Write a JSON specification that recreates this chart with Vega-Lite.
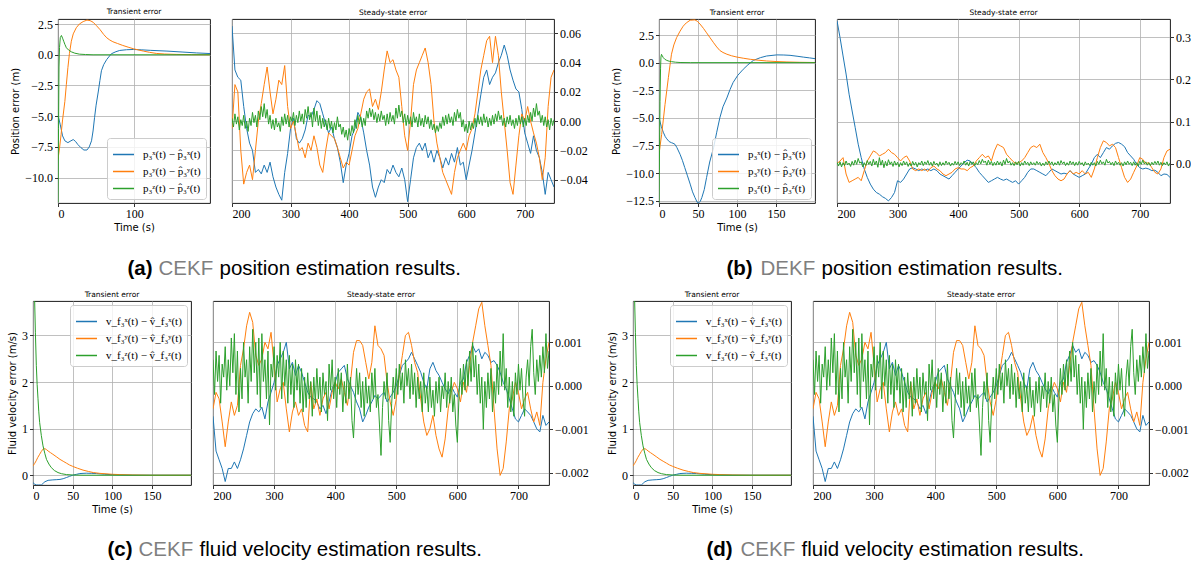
{
"$schema":"https://vega.github.io/schema/vega-lite/v6.json",
"background":"white",
"padding":{"left":0,"top":7,"right":0,"bottom":0},
"spacing":11,
"resolve":{"legend":{"color":"independent"}},
"config":{
 "view":{"stroke":"#000","strokeWidth":0.9},
 "axis":{"labelFont":"Liberation Serif","labelFontSize":12,"labelColor":"#000","tickColor":"#000","tickSize":3.5,"tickWidth":0.8,"labelPadding":2,"grid":true,"gridColor":"#b0b0b0","gridWidth":0.8,"domain":false,"titleFont":"DejaVu Sans","titleFontSize":10,"titleFontWeight":"normal","titleColor":"#000"},
 "title":{"font":"DejaVu Sans","fontSize":7.5,"fontWeight":"normal","color":"#000","offset":3},
 "legend":{"symbolType":"stroke","symbolSize":441,"symbolStrokeWidth":1.5,"labelFont":"Liberation Serif","labelFontSize":11,"labelColor":"#000","fillColor":"rgba(255,255,255,0.8)","strokeColor":"#cccccc","cornerRadius":3,"padding":5,"offset":4,"rowPadding":0,"labelOffset":8,"title":null}
},
"datasets":{
"tA":[
{"s":"x","t":0,"v":-4.9},{"s":"x","t":3,"v":-5.7},{"s":"x","t":6,"v":-6.6},{"s":"x","t":9,"v":-7.0},{"s":"x","t":13,"v":-7.15},{"s":"x","t":17,"v":-7.0},{"s":"x","t":20,"v":-6.9},{"s":"x","t":23,"v":-7.05},{"s":"x","t":26,"v":-7.3},{"s":"x","t":30,"v":-7.55},{"s":"x","t":34,"v":-7.75},{"s":"x","t":38,"v":-7.75},{"s":"x","t":41,"v":-7.5},{"s":"x","t":44,"v":-7.0},{"s":"x","t":46,"v":-6.2},{"s":"x","t":48,"v":-5.1},{"s":"x","t":50,"v":-4.1},{"s":"x","t":53,"v":-2.95},{"s":"x","t":55,"v":-2.1},{"s":"x","t":57,"v":-1.3},{"s":"x","t":60,"v":-0.8},{"s":"x","t":64,"v":-0.38},{"s":"x","t":70,"v":0.08},{"s":"x","t":76,"v":0.25},{"s":"x","t":81,"v":0.35},{"s":"x","t":90,"v":0.41},{"s":"x","t":99,"v":0.43},{"s":"x","t":110,"v":0.4},{"s":"x","t":121,"v":0.36},{"s":"x","t":143,"v":0.3},{"s":"x","t":164,"v":0.22},{"s":"x","t":182,"v":0.15},{"s":"x","t":199.5,"v":0.1},
{"s":"y","t":0,"v":-8.5},{"s":"y","t":2,"v":-7.6},{"s":"y","t":4,"v":-6.5},{"s":"y","t":6,"v":-5.3},{"s":"y","t":9,"v":-3.8},{"s":"y","t":11,"v":-2.4},{"s":"y","t":13,"v":-1.05},{"s":"y","t":15,"v":0.1},{"s":"y","t":17.5,"v":1.1},{"s":"y","t":20,"v":1.7},{"s":"y","t":24,"v":2.2},{"s":"y","t":28,"v":2.5},{"s":"y","t":33,"v":2.7},{"s":"y","t":38,"v":2.82},{"s":"y","t":42,"v":2.78},{"s":"y","t":46,"v":2.65},{"s":"y","t":50,"v":2.4},{"s":"y","t":55,"v":2.06},{"s":"y","t":60,"v":1.65},{"s":"y","t":64,"v":1.38},{"s":"y","t":68,"v":1.2},{"s":"y","t":72,"v":1.06},{"s":"y","t":78,"v":0.92},{"s":"y","t":85,"v":0.76},{"s":"y","t":92,"v":0.62},{"s":"y","t":99,"v":0.49},{"s":"y","t":105,"v":0.4},{"s":"y","t":112,"v":0.3},{"s":"y","t":120,"v":0.2},{"s":"y","t":129,"v":0.11},{"s":"y","t":140,"v":0.06},{"s":"y","t":156,"v":0.03},{"s":"y","t":175,"v":0.01},{"s":"y","t":199.5,"v":0},
{"s":"z","t":0,"v":-12},{"s":"z","t":0.7,"v":-6},{"s":"z","t":1.3,"v":-1},{"s":"z","t":2,"v":0.6},{"s":"z","t":3,"v":1.4},{"s":"z","t":4.5,"v":1.57},{"s":"z","t":6,"v":1.35},{"s":"z","t":7.5,"v":1.1},{"s":"z","t":9,"v":0.85},{"s":"z","t":11,"v":0.57},{"s":"z","t":14,"v":0.38},{"s":"z","t":17.5,"v":0.24},{"s":"z","t":22,"v":0.13},{"s":"z","t":28,"v":0.05},{"s":"z","t":36,"v":0.02},{"s":"z","t":46,"v":0},{"s":"z","t":199.5,"v":0}
],
"tB":[
{"s":"x","t":0,"v":-5.0},{"s":"x","t":3,"v":-5.8},{"s":"x","t":5.5,"v":-6.3},{"s":"x","t":8,"v":-6.7},{"s":"x","t":10,"v":-6.9},{"s":"x","t":13,"v":-7.15},{"s":"x","t":16,"v":-7.25},{"s":"x","t":18,"v":-7.3},{"s":"x","t":20.5,"v":-7.4},{"s":"x","t":23,"v":-7.7},{"s":"x","t":27,"v":-8.3},{"s":"x","t":30,"v":-8.85},{"s":"x","t":33,"v":-9.5},{"s":"x","t":36.5,"v":-10.25},{"s":"x","t":40,"v":-11.0},{"s":"x","t":43,"v":-11.7},{"s":"x","t":46,"v":-12.2},{"s":"x","t":49,"v":-12.65},{"s":"x","t":51,"v":-12.7},{"s":"x","t":53,"v":-12.55},{"s":"x","t":55,"v":-12.2},{"s":"x","t":58,"v":-11.5},{"s":"x","t":61,"v":-10.4},{"s":"x","t":65,"v":-9.0},{"s":"x","t":70,"v":-7.7},{"s":"x","t":74,"v":-6.3},{"s":"x","t":78,"v":-5.0},{"s":"x","t":82,"v":-4.0},{"s":"x","t":87,"v":-3.2},{"s":"x","t":91,"v":-2.45},{"s":"x","t":95,"v":-1.8},{"s":"x","t":101,"v":-1.15},{"s":"x","t":108,"v":-0.6},{"s":"x","t":114,"v":-0.2},{"s":"x","t":121,"v":0.2},{"s":"x","t":130,"v":0.45},{"s":"x","t":138,"v":0.6},{"s":"x","t":151,"v":0.7},{"s":"x","t":160,"v":0.69},{"s":"x","t":168,"v":0.66},{"s":"x","t":177,"v":0.58},{"s":"x","t":185,"v":0.5},{"s":"x","t":193,"v":0.43},{"s":"x","t":200,"v":0.36},
{"s":"y","t":0,"v":-8.3},{"s":"y","t":1.5,"v":-7.5},{"s":"y","t":3.4,"v":-6.5},{"s":"y","t":5.5,"v":-5.2},{"s":"y","t":7.7,"v":-3.8},{"s":"y","t":10,"v":-2.5},{"s":"y","t":12,"v":-1.36},{"s":"y","t":14,"v":-0.3},{"s":"y","t":16,"v":0.76},{"s":"y","t":19,"v":1.6},{"s":"y","t":22.6,"v":2.27},{"s":"y","t":27,"v":2.85},{"s":"y","t":31,"v":3.3},{"s":"y","t":35,"v":3.6},{"s":"y","t":40,"v":3.84},{"s":"y","t":46,"v":3.87},{"s":"y","t":49,"v":3.75},{"s":"y","t":52.5,"v":3.5},{"s":"y","t":57,"v":3.1},{"s":"y","t":61,"v":2.7},{"s":"y","t":65,"v":2.3},{"s":"y","t":70,"v":1.8},{"s":"y","t":74,"v":1.42},{"s":"y","t":78,"v":1.1},{"s":"y","t":82,"v":0.92},{"s":"y","t":87,"v":0.76},{"s":"y","t":93,"v":0.62},{"s":"y","t":100,"v":0.5},{"s":"y","t":108,"v":0.4},{"s":"y","t":117,"v":0.3},{"s":"y","t":127,"v":0.22},{"s":"y","t":138,"v":0.15},{"s":"y","t":150,"v":0.1},{"s":"y","t":164,"v":0.06},{"s":"y","t":180,"v":0.03},{"s":"y","t":200,"v":0.01},
{"s":"z","t":0,"v":-12.7},{"s":"z","t":0.7,"v":-8},{"s":"z","t":1.3,"v":-3.5},{"s":"z","t":2,"v":-0.5},{"s":"z","t":2.5,"v":0.5},{"s":"z","t":3.2,"v":0.75},{"s":"z","t":4,"v":0.65},{"s":"z","t":5.5,"v":0.45},{"s":"z","t":7.5,"v":0.3},{"s":"z","t":10,"v":0.2},{"s":"z","t":13,"v":0.13},{"s":"z","t":16,"v":0.09},{"s":"z","t":21,"v":0.04},{"s":"z","t":27,"v":0.01},{"s":"z","t":40,"v":0},{"s":"z","t":200,"v":0}
],
"tC":[
{"s":"x","t":0,"v":-0.16},{"s":"x","t":2,"v":-0.19},{"s":"x","t":4,"v":-0.21},{"s":"x","t":7,"v":-0.21},{"s":"x","t":10.5,"v":-0.21},{"s":"x","t":13,"v":-0.17},{"s":"x","t":15,"v":-0.14},{"s":"x","t":19,"v":-0.11},{"s":"x","t":25,"v":-0.1},{"s":"x","t":30,"v":-0.095},{"s":"x","t":34,"v":-0.09},{"s":"x","t":38,"v":-0.075},{"s":"x","t":42,"v":-0.05},{"s":"x","t":46,"v":-0.025},{"s":"x","t":50,"v":0},{"s":"x","t":55,"v":0.02},{"s":"x","t":59,"v":0.036},{"s":"x","t":67,"v":0.043},{"s":"x","t":74,"v":0.04},{"s":"x","t":80,"v":0.036},{"s":"x","t":90,"v":0.022},{"s":"x","t":97,"v":0.014},{"s":"x","t":110,"v":0.006},{"s":"x","t":126,"v":0},{"s":"x","t":199,"v":0},
{"s":"y","t":0,"v":0.2},{"s":"y","t":2,"v":0.25},{"s":"y","t":4,"v":0.31},{"s":"y","t":6,"v":0.38},{"s":"y","t":8.4,"v":0.45},{"s":"y","t":10.5,"v":0.51},{"s":"y","t":12.6,"v":0.56},{"s":"y","t":15,"v":0.57},{"s":"y","t":17,"v":0.55},{"s":"y","t":19,"v":0.52},{"s":"y","t":22,"v":0.485},{"s":"y","t":25,"v":0.45},{"s":"y","t":30,"v":0.39},{"s":"y","t":34,"v":0.34},{"s":"y","t":38,"v":0.3},{"s":"y","t":42,"v":0.26},{"s":"y","t":46,"v":0.22},{"s":"y","t":50,"v":0.19},{"s":"y","t":56,"v":0.15},{"s":"y","t":63,"v":0.11},{"s":"y","t":70,"v":0.08},{"s":"y","t":76,"v":0.057},{"s":"y","t":84,"v":0.04},{"s":"y","t":92,"v":0.03},{"s":"y","t":100,"v":0.02},{"s":"y","t":109,"v":0.014},{"s":"y","t":125,"v":0.006},{"s":"y","t":147,"v":0},{"s":"y","t":199,"v":0},
{"s":"z","t":0,"v":6},{"s":"z","t":2,"v":3.8},{"s":"z","t":3,"v":3.07},{"s":"z","t":4.2,"v":2.35},{"s":"z","t":5.2,"v":1.95},{"s":"z","t":6.3,"v":1.64},{"s":"z","t":7.3,"v":1.36},{"s":"z","t":8.4,"v":1.13},{"s":"z","t":10.5,"v":0.85},{"s":"z","t":12.6,"v":0.63},{"s":"z","t":15,"v":0.46},{"s":"z","t":17,"v":0.34},{"s":"z","t":20,"v":0.24},{"s":"z","t":23,"v":0.165},{"s":"z","t":27,"v":0.1},{"s":"z","t":31.5,"v":0.057},{"s":"z","t":36,"v":0.032},{"s":"z","t":42,"v":0.014},{"s":"z","t":50,"v":0.005},{"s":"z","t":63,"v":0},{"s":"z","t":199,"v":0}
],
"sA":[
{"t":200,"x":0.065,"y":-0.005},{"t":205,"x":0.035,"y":0.025},{"t":210,"x":0.030,"y":0.020},{"t":215,"x":0.028,"y":-0.020},{"t":220,"x":0.010,"y":-0.043},{"t":225,"x":-0.005,"y":-0.035},{"t":230,"x":-0.015,"y":-0.030},{"t":235,"x":-0.020,"y":-0.040},{"t":240,"x":-0.035,"y":-0.020},{"t":245,"x":-0.033,"y":0.000},{"t":250,"x":-0.036,"y":0.012},{"t":255,"x":-0.030,"y":0.025},{"t":260,"x":-0.035,"y":0.037},{"t":265,"x":-0.028,"y":0.020},{"t":270,"x":-0.038,"y":0.005},{"t":275,"x":-0.045,"y":0.015},{"t":280,"x":-0.050,"y":0.028},{"t":285,"x":-0.054,"y":0.025},{"t":290,"x":-0.035,"y":0.038},{"t":295,"x":-0.022,"y":0.010},{"t":300,"x":-0.005,"y":-0.005},{"t":305,"x":0.002,"y":0.000},{"t":310,"x":-0.012,"y":-0.010},{"t":315,"x":-0.015,"y":-0.020},{"t":320,"x":-0.012,"y":-0.018},{"t":325,"x":-0.006,"y":-0.025},{"t":330,"x":0.004,"y":-0.015},{"t":335,"x":0.003,"y":-0.020},{"t":340,"x":0.008,"y":-0.010},{"t":345,"x":0.014,"y":-0.018},{"t":350,"x":0.012,"y":-0.030},{"t":355,"x":0.005,"y":-0.035},{"t":360,"x":-0.002,"y":-0.020},{"t":365,"x":-0.008,"y":-0.008},{"t":370,"x":-0.004,"y":-0.010},{"t":375,"x":-0.012,"y":-0.012},{"t":380,"x":-0.018,"y":-0.018},{"t":385,"x":-0.028,"y":-0.025},{"t":390,"x":-0.042,"y":-0.032},{"t":395,"x":-0.030,"y":-0.028},{"t":400,"x":-0.022,"y":-0.030},{"t":405,"x":-0.010,"y":-0.020},{"t":410,"x":-0.005,"y":-0.010},{"t":415,"x":0.006,"y":-0.005},{"t":420,"x":0.002,"y":0.005},{"t":425,"x":-0.008,"y":0.015},{"t":430,"x":-0.020,"y":0.020},{"t":435,"x":-0.030,"y":0.022},{"t":440,"x":-0.045,"y":0.010},{"t":445,"x":-0.052,"y":0.015},{"t":450,"x":-0.045,"y":0.008},{"t":455,"x":-0.040,"y":0.020},{"t":460,"x":-0.042,"y":0.035},{"t":465,"x":-0.033,"y":0.048},{"t":470,"x":-0.036,"y":0.040},{"t":475,"x":-0.030,"y":0.042},{"t":480,"x":-0.035,"y":0.035},{"t":485,"x":-0.038,"y":0.030},{"t":490,"x":-0.032,"y":0.010},{"t":495,"x":-0.040,"y":-0.010},{"t":500,"x":-0.055,"y":-0.020},{"t":505,"x":-0.040,"y":0.000},{"t":510,"x":-0.025,"y":0.025},{"t":515,"x":-0.018,"y":0.035},{"t":520,"x":-0.015,"y":0.040},{"t":525,"x":-0.020,"y":0.045},{"t":530,"x":-0.015,"y":0.050},{"t":535,"x":-0.025,"y":0.040},{"t":540,"x":-0.020,"y":0.025},{"t":545,"x":-0.028,"y":0.000},{"t":550,"x":-0.020,"y":-0.015},{"t":555,"x":-0.025,"y":-0.025},{"t":560,"x":-0.032,"y":-0.035},{"t":565,"x":-0.025,"y":-0.040},{"t":570,"x":-0.030,"y":-0.045},{"t":575,"x":-0.022,"y":-0.050},{"t":580,"x":-0.028,"y":-0.035},{"t":585,"x":-0.018,"y":-0.025},{"t":590,"x":-0.030,"y":-0.020},{"t":595,"x":-0.028,"y":-0.015},{"t":600,"x":-0.040,"y":-0.020},{"t":605,"x":-0.030,"y":-0.010},{"t":610,"x":-0.020,"y":-0.005},{"t":615,"x":-0.008,"y":0.005},{"t":620,"x":0.005,"y":0.020},{"t":625,"x":0.018,"y":0.035},{"t":630,"x":0.030,"y":0.045},{"t":635,"x":0.035,"y":0.055},{"t":640,"x":0.025,"y":0.058},{"t":645,"x":0.030,"y":0.040},{"t":650,"x":0.033,"y":0.058},{"t":655,"x":0.040,"y":0.045},{"t":660,"x":0.045,"y":0.020},{"t":665,"x":0.052,"y":0.000},{"t":670,"x":0.045,"y":-0.020},{"t":675,"x":0.035,"y":-0.042},{"t":680,"x":0.028,"y":-0.050},{"t":685,"x":0.022,"y":-0.030},{"t":690,"x":0.020,"y":-0.010},{"t":695,"x":0.008,"y":0.005},{"t":700,"x":-0.008,"y":0.000},{"t":705,"x":-0.015,"y":0.010},{"t":710,"x":-0.022,"y":0.000},{"t":715,"x":-0.010,"y":-0.008},{"t":720,"x":-0.020,"y":-0.015},{"t":725,"x":-0.025,"y":-0.025},{"t":730,"x":-0.035,"y":-0.040},{"t":735,"x":-0.050,"y":-0.025},{"t":740,"x":-0.035,"y":0.010},{"t":745,"x":-0.040,"y":0.030},{"t":750,"x":-0.045,"y":0.035}
],
"zA":[
{"t":200,"z":0.002},{"t":202.5,"z":-0.004},{"t":205,"z":0.005},{"t":207.5,"z":-0.002},{"t":210,"z":0.003},{"t":212.5,"z":-0.006},{"t":215,"z":0.001},{"t":217.5,"z":-0.003},{"t":220,"z":0.004},{"t":222.5,"z":-0.005},{"t":225,"z":0.000},{"t":227.5,"z":-0.007},{"t":230,"z":0.002},{"t":232.5,"z":-0.003},{"t":235,"z":0.006},{"t":237.5,"z":-0.001},{"t":240,"z":0.004},{"t":242.5,"z":-0.004},{"t":245,"z":0.007},{"t":247.5,"z":0.001},{"t":250,"z":0.010},{"t":252.5,"z":0.003},{"t":255,"z":0.012},{"t":257.5,"z":0.002},{"t":260,"z":0.008},{"t":262.5,"z":-0.002},{"t":265,"z":0.004},{"t":267.5,"z":-0.005},{"t":270,"z":0.001},{"t":272.5,"z":-0.006},{"t":275,"z":0.002},{"t":277.5,"z":-0.004},{"t":280,"z":-0.001},{"t":282.5,"z":-0.007},{"t":285,"z":0.003},{"t":287.5,"z":-0.003},{"t":290,"z":0.005},{"t":292.5,"z":-0.002},{"t":295,"z":0.004},{"t":297.5,"z":-0.004},{"t":300,"z":0.003},{"t":302.5,"z":0.000},{"t":305,"z":0.006},{"t":307.5,"z":-0.003},{"t":310,"z":0.004},{"t":312.5,"z":-0.001},{"t":315,"z":0.007},{"t":317.5,"z":0.000},{"t":320,"z":0.005},{"t":322.5,"z":-0.002},{"t":325,"z":0.008},{"t":327.5,"z":0.002},{"t":330,"z":0.010},{"t":332.5,"z":0.001},{"t":335,"z":0.006},{"t":337.5,"z":-0.004},{"t":340,"z":0.009},{"t":342.5,"z":0.000},{"t":345,"z":0.007},{"t":347.5,"z":-0.003},{"t":350,"z":0.004},{"t":352.5,"z":-0.005},{"t":355,"z":0.002},{"t":357.5,"z":-0.004},{"t":360,"z":0.001},{"t":362.5,"z":-0.006},{"t":365,"z":0.002},{"t":367.5,"z":-0.005},{"t":370,"z":0.000},{"t":372.5,"z":-0.008},{"t":375,"z":-0.001},{"t":377.5,"z":-0.006},{"t":380,"z":0.003},{"t":382.5,"z":-0.004},{"t":385,"z":-0.002},{"t":387.5,"z":-0.009},{"t":390,"z":-0.004},{"t":392.5,"z":-0.011},{"t":395,"z":-0.006},{"t":397.5,"z":-0.013},{"t":400,"z":-0.005},{"t":402.5,"z":-0.010},{"t":405,"z":-0.003},{"t":407.5,"z":-0.008},{"t":410,"z":0.001},{"t":412.5,"z":-0.005},{"t":415,"z":0.004},{"t":417.5,"z":-0.002},{"t":420,"z":0.003},{"t":422.5,"z":-0.004},{"t":425,"z":0.002},{"t":427.5,"z":-0.003},{"t":430,"z":0.007},{"t":432.5,"z":0.002},{"t":435,"z":0.009},{"t":437.5,"z":0.003},{"t":440,"z":0.008},{"t":442.5,"z":0.001},{"t":445,"z":0.006},{"t":447.5,"z":-0.001},{"t":450,"z":0.005},{"t":452.5,"z":0.000},{"t":455,"z":0.007},{"t":457.5,"z":0.001},{"t":460,"z":0.004},{"t":462.5,"z":-0.003},{"t":465,"z":0.005},{"t":467.5,"z":-0.002},{"t":470,"z":0.006},{"t":472.5,"z":0.000},{"t":475,"z":0.004},{"t":477.5,"z":-0.002},{"t":480,"z":0.009},{"t":482.5,"z":0.002},{"t":485,"z":0.011},{"t":487.5,"z":0.003},{"t":490,"z":0.007},{"t":492.5,"z":-0.001},{"t":495,"z":0.005},{"t":497.5,"z":-0.003},{"t":500,"z":0.004},{"t":502.5,"z":-0.002},{"t":505,"z":0.003},{"t":507.5,"z":-0.004},{"t":510,"z":0.006},{"t":512.5,"z":-0.001},{"t":515,"z":0.003},{"t":517.5,"z":-0.004},{"t":520,"z":0.005},{"t":522.5,"z":-0.003},{"t":525,"z":0.002},{"t":527.5,"z":-0.004},{"t":530,"z":0.004},{"t":532.5,"z":-0.002},{"t":535,"z":0.003},{"t":537.5,"z":-0.005},{"t":540,"z":0.001},{"t":542.5,"z":-0.006},{"t":545,"z":-0.002},{"t":547.5,"z":-0.008},{"t":550,"z":-0.003},{"t":552.5,"z":-0.007},{"t":555,"z":-0.001},{"t":557.5,"z":-0.005},{"t":560,"z":0.003},{"t":562.5,"z":-0.003},{"t":565,"z":0.004},{"t":567.5,"z":-0.002},{"t":570,"z":0.005},{"t":572.5,"z":-0.001},{"t":575,"z":0.003},{"t":577.5,"z":-0.003},{"t":580,"z":0.006},{"t":582.5,"z":0.000},{"t":585,"z":0.008},{"t":587.5,"z":0.002},{"t":590,"z":0.006},{"t":592.5,"z":-0.004},{"t":595,"z":0.001},{"t":597.5,"z":-0.007},{"t":600,"z":-0.002},{"t":602.5,"z":-0.008},{"t":605,"z":0.000},{"t":607.5,"z":-0.006},{"t":610,"z":-0.001},{"t":612.5,"z":-0.005},{"t":615,"z":0.002},{"t":617.5,"z":-0.004},{"t":620,"z":0.004},{"t":622.5,"z":-0.002},{"t":625,"z":0.003},{"t":627.5,"z":-0.003},{"t":630,"z":0.005},{"t":632.5,"z":-0.001},{"t":635,"z":0.003},{"t":637.5,"z":-0.004},{"t":640,"z":0.002},{"t":642.5,"z":-0.003},{"t":645,"z":0.004},{"t":647.5,"z":-0.002},{"t":650,"z":0.005},{"t":652.5,"z":0.000},{"t":655,"z":0.007},{"t":657.5,"z":0.001},{"t":660,"z":0.004},{"t":662.5,"z":-0.003},{"t":665,"z":0.002},{"t":667.5,"z":-0.004},{"t":670,"z":0.003},{"t":672.5,"z":-0.002},{"t":675,"z":0.004},{"t":677.5,"z":-0.003},{"t":680,"z":0.001},{"t":682.5,"z":-0.005},{"t":685,"z":0.002},{"t":687.5,"z":-0.003},{"t":690,"z":0.004},{"t":692.5,"z":-0.002},{"t":695,"z":0.003},{"t":697.5,"z":-0.004},{"t":700,"z":0.002},{"t":702.5,"z":-0.003},{"t":705,"z":0.004},{"t":707.5,"z":-0.001},{"t":710,"z":0.006},{"t":712.5,"z":0.000},{"t":715,"z":0.009},{"t":717.5,"z":0.003},{"t":720,"z":0.012},{"t":722.5,"z":0.004},{"t":725,"z":0.007},{"t":727.5,"z":-0.001},{"t":730,"z":0.004},{"t":732.5,"z":-0.003},{"t":735,"z":0.003},{"t":737.5,"z":-0.004},{"t":740,"z":0.001},{"t":742.5,"z":-0.006},{"t":745,"z":0.002},{"t":747.5,"z":-0.003},{"t":750,"z":0.001}
],
"sB":[
{"t":200,"x":0.340,"y":0.000},{"t":205,"x":0.300,"y":0.006},{"t":210,"x":0.256,"y":0.014},{"t":215,"x":0.213,"y":-0.025},{"t":220,"x":0.165,"y":-0.045},{"t":225,"x":0.125,"y":-0.041},{"t":230,"x":0.086,"y":-0.037},{"t":235,"x":0.046,"y":-0.033},{"t":240,"x":0.014,"y":-0.041},{"t":245,"x":-0.013,"y":-0.017},{"t":250,"x":-0.033,"y":0.006},{"t":255,"x":-0.049,"y":0.018},{"t":260,"x":-0.061,"y":0.030},{"t":265,"x":-0.069,"y":0.026},{"t":270,"x":-0.073,"y":0.018},{"t":275,"x":-0.079,"y":0.022},{"t":280,"x":-0.083,"y":0.026},{"t":285,"x":-0.089,"y":0.034},{"t":290,"x":-0.081,"y":0.026},{"t":295,"x":-0.069,"y":0.022},{"t":300,"x":-0.041,"y":0.014},{"t":305,"x":-0.045,"y":0.006},{"t":310,"x":-0.037,"y":0.014},{"t":315,"x":-0.025,"y":0.018},{"t":320,"x":-0.013,"y":0.006},{"t":325,"x":-0.010,"y":-0.013},{"t":330,"x":-0.013,"y":-0.017},{"t":335,"x":-0.017,"y":-0.013},{"t":340,"x":-0.013,"y":-0.017},{"t":345,"x":-0.016,"y":-0.013},{"t":350,"x":-0.013,"y":-0.019},{"t":355,"x":-0.017,"y":-0.010},{"t":360,"x":-0.013,"y":-0.006},{"t":365,"x":-0.017,"y":-0.013},{"t":370,"x":-0.025,"y":-0.017},{"t":375,"x":-0.029,"y":-0.025},{"t":380,"x":-0.033,"y":-0.029},{"t":385,"x":-0.037,"y":-0.025},{"t":390,"x":-0.029,"y":-0.021},{"t":395,"x":-0.021,"y":-0.013},{"t":400,"x":-0.013,"y":-0.010},{"t":405,"x":-0.006,"y":-0.013},{"t":410,"x":0.002,"y":-0.013},{"t":415,"x":0.008,"y":-0.017},{"t":420,"x":0.006,"y":-0.010},{"t":425,"x":-0.002,"y":-0.006},{"t":430,"x":-0.010,"y":0.006},{"t":435,"x":-0.021,"y":0.014},{"t":440,"x":-0.029,"y":0.022},{"t":445,"x":-0.037,"y":0.014},{"t":450,"x":-0.045,"y":0.018},{"t":455,"x":-0.041,"y":0.006},{"t":460,"x":-0.037,"y":0.030},{"t":465,"x":-0.033,"y":0.046},{"t":470,"x":-0.037,"y":0.042},{"t":475,"x":-0.040,"y":0.038},{"t":480,"x":-0.037,"y":0.022},{"t":485,"x":-0.041,"y":0.014},{"t":490,"x":-0.045,"y":0.006},{"t":495,"x":-0.041,"y":0.000},{"t":500,"x":-0.049,"y":0.002},{"t":505,"x":-0.041,"y":0.006},{"t":510,"x":-0.033,"y":0.014},{"t":515,"x":-0.021,"y":0.026},{"t":520,"x":-0.013,"y":0.038},{"t":525,"x":-0.013,"y":0.042},{"t":530,"x":-0.017,"y":0.038},{"t":535,"x":-0.021,"y":0.046},{"t":540,"x":-0.025,"y":0.026},{"t":545,"x":-0.029,"y":0.014},{"t":550,"x":-0.021,"y":0.000},{"t":555,"x":-0.013,"y":-0.017},{"t":560,"x":-0.017,"y":-0.029},{"t":565,"x":-0.021,"y":-0.037},{"t":570,"x":-0.025,"y":-0.041},{"t":575,"x":-0.023,"y":-0.037},{"t":580,"x":-0.025,"y":-0.025},{"t":585,"x":-0.017,"y":-0.017},{"t":590,"x":-0.025,"y":-0.025},{"t":595,"x":-0.029,"y":-0.021},{"t":600,"x":-0.033,"y":-0.025},{"t":605,"x":-0.029,"y":-0.017},{"t":610,"x":-0.025,"y":-0.025},{"t":615,"x":-0.013,"y":-0.021},{"t":620,"x":-0.002,"y":-0.033},{"t":625,"x":0.014,"y":-0.013},{"t":630,"x":0.022,"y":0.014},{"t":635,"x":0.014,"y":0.038},{"t":640,"x":0.026,"y":0.054},{"t":645,"x":0.038,"y":0.050},{"t":650,"x":0.034,"y":0.042},{"t":655,"x":0.042,"y":0.046},{"t":660,"x":0.048,"y":0.038},{"t":665,"x":0.050,"y":0.014},{"t":670,"x":0.046,"y":-0.010},{"t":675,"x":0.040,"y":-0.033},{"t":680,"x":0.026,"y":-0.045},{"t":685,"x":0.018,"y":-0.037},{"t":690,"x":0.010,"y":-0.021},{"t":695,"x":-0.002,"y":-0.006},{"t":700,"x":-0.010,"y":0.014},{"t":705,"x":-0.013,"y":0.010},{"t":710,"x":-0.011,"y":0.000},{"t":715,"x":-0.013,"y":0.002},{"t":720,"x":-0.017,"y":-0.010},{"t":725,"x":-0.016,"y":-0.021},{"t":730,"x":-0.021,"y":-0.025},{"t":735,"x":-0.029,"y":-0.013},{"t":740,"x":-0.025,"y":0.014},{"t":745,"x":-0.026,"y":0.030},{"t":750,"x":-0.033,"y":0.034}
],
"zB":[
{"t":200,"z":0.003},{"t":202.5,"z":-0.006},{"t":205,"z":0.004},{"t":207.5,"z":-0.008},{"t":210,"z":0.002},{"t":212.5,"z":-0.005},{"t":215,"z":0.006},{"t":217.5,"z":-0.003},{"t":220,"z":0.001},{"t":222.5,"z":-0.007},{"t":225,"z":0.005},{"t":227.5,"z":-0.004},{"t":230,"z":0.008},{"t":232.5,"z":-0.002},{"t":235,"z":0.012},{"t":237.5,"z":0.001},{"t":240,"z":0.004},{"t":242.5,"z":-0.008},{"t":245,"z":0.002},{"t":247.5,"z":-0.005},{"t":250,"z":0.007},{"t":252.5,"z":-0.002},{"t":255,"z":0.005},{"t":257.5,"z":-0.006},{"t":260,"z":0.010},{"t":262.5,"z":-0.003},{"t":265,"z":0.006},{"t":267.5,"z":-0.009},{"t":270,"z":0.014},{"t":272.5,"z":-0.004},{"t":275,"z":0.008},{"t":277.5,"z":-0.010},{"t":280,"z":0.005},{"t":282.5,"z":-0.006},{"t":285,"z":0.009},{"t":287.5,"z":-0.002},{"t":290,"z":0.004},{"t":292.5,"z":-0.007},{"t":295,"z":0.006},{"t":297.5,"z":-0.004},{"t":300,"z":0.003},{"t":302.5,"z":-0.008},{"t":305,"z":0.002},{"t":307.5,"z":-0.005},{"t":310,"z":0.006},{"t":312.5,"z":-0.003},{"t":315,"z":0.004},{"t":317.5,"z":-0.007},{"t":320,"z":0.001},{"t":322.5,"z":-0.006},{"t":325,"z":0.005},{"t":327.5,"z":-0.004},{"t":330,"z":0.003},{"t":332.5,"z":-0.008},{"t":335,"z":0.002},{"t":337.5,"z":-0.003},{"t":340,"z":0.006},{"t":342.5,"z":-0.005},{"t":345,"z":0.004},{"t":347.5,"z":-0.002},{"t":350,"z":0.007},{"t":352.5,"z":-0.004},{"t":355,"z":0.003},{"t":357.5,"z":-0.006},{"t":360,"z":0.005},{"t":362.5,"z":-0.003},{"t":365,"z":0.001},{"t":367.5,"z":-0.007},{"t":370,"z":0.004},{"t":372.5,"z":-0.005},{"t":375,"z":0.002},{"t":377.5,"z":-0.004},{"t":380,"z":0.006},{"t":382.5,"z":-0.002},{"t":385,"z":0.003},{"t":387.5,"z":-0.006},{"t":390,"z":0.001},{"t":392.5,"z":-0.004},{"t":395,"z":0.005},{"t":397.5,"z":-0.003},{"t":400,"z":0.004},{"t":402.5,"z":-0.005},{"t":405,"z":0.002},{"t":407.5,"z":-0.002},{"t":410,"z":0.006},{"t":412.5,"z":-0.004},{"t":415,"z":0.003},{"t":417.5,"z":-0.006},{"t":420,"z":0.005},{"t":422.5,"z":-0.002},{"t":425,"z":0.004},{"t":427.5,"z":-0.005},{"t":430,"z":0.002},{"t":432.5,"z":-0.003},{"t":435,"z":0.007},{"t":437.5,"z":-0.001},{"t":440,"z":0.010},{"t":442.5,"z":0.002},{"t":445,"z":0.006},{"t":447.5,"z":-0.004},{"t":450,"z":0.008},{"t":452.5,"z":-0.002},{"t":455,"z":0.005},{"t":457.5,"z":-0.005},{"t":460,"z":0.003},{"t":462.5,"z":-0.004},{"t":465,"z":0.006},{"t":467.5,"z":-0.003},{"t":470,"z":0.004},{"t":472.5,"z":-0.006},{"t":475,"z":0.008},{"t":477.5,"z":-0.002},{"t":480,"z":0.012},{"t":482.5,"z":0.001},{"t":485,"z":0.006},{"t":487.5,"z":-0.004},{"t":490,"z":0.002},{"t":492.5,"z":-0.005},{"t":495,"z":0.004},{"t":497.5,"z":-0.003},{"t":500,"z":0.005},{"t":502.5,"z":-0.006},{"t":505,"z":0.002},{"t":507.5,"z":-0.004},{"t":510,"z":0.006},{"t":512.5,"z":-0.002},{"t":515,"z":0.003},{"t":517.5,"z":-0.005},{"t":520,"z":0.004},{"t":522.5,"z":-0.003},{"t":525,"z":0.002},{"t":527.5,"z":-0.004},{"t":530,"z":0.005},{"t":532.5,"z":-0.002},{"t":535,"z":0.003},{"t":537.5,"z":-0.006},{"t":540,"z":0.001},{"t":542.5,"z":-0.005},{"t":545,"z":0.004},{"t":547.5,"z":-0.003},{"t":550,"z":0.006},{"t":552.5,"z":-0.002},{"t":555,"z":0.004},{"t":557.5,"z":-0.005},{"t":560,"z":0.002},{"t":562.5,"z":-0.003},{"t":565,"z":0.005},{"t":567.5,"z":-0.004},{"t":570,"z":0.007},{"t":572.5,"z":-0.001},{"t":575,"z":0.004},{"t":577.5,"z":-0.005},{"t":580,"z":0.002},{"t":582.5,"z":-0.004},{"t":585,"z":0.006},{"t":587.5,"z":-0.002},{"t":590,"z":0.004},{"t":592.5,"z":-0.005},{"t":595,"z":0.003},{"t":597.5,"z":-0.004},{"t":600,"z":0.005},{"t":602.5,"z":-0.002},{"t":605,"z":0.002},{"t":607.5,"z":-0.006},{"t":610,"z":0.004},{"t":612.5,"z":-0.003},{"t":615,"z":0.001},{"t":617.5,"z":-0.005},{"t":620,"z":0.003},{"t":622.5,"z":-0.004},{"t":625,"z":0.002},{"t":627.5,"z":-0.006},{"t":630,"z":0.005},{"t":632.5,"z":-0.002},{"t":635,"z":0.008},{"t":637.5,"z":-0.001},{"t":640,"z":0.004},{"t":642.5,"z":-0.004},{"t":645,"z":0.010},{"t":647.5,"z":0.001},{"t":650,"z":0.005},{"t":652.5,"z":-0.003},{"t":655,"z":0.003},{"t":657.5,"z":-0.005},{"t":660,"z":0.006},{"t":662.5,"z":-0.002},{"t":665,"z":0.003},{"t":667.5,"z":-0.004},{"t":670,"z":0.002},{"t":672.5,"z":-0.006},{"t":675,"z":0.004},{"t":677.5,"z":-0.003},{"t":680,"z":0.006},{"t":682.5,"z":-0.002},{"t":685,"z":0.003},{"t":687.5,"z":-0.005},{"t":690,"z":0.004},{"t":692.5,"z":-0.004},{"t":695,"z":0.002},{"t":697.5,"z":-0.006},{"t":700,"z":0.005},{"t":702.5,"z":-0.002},{"t":705,"z":0.008},{"t":707.5,"z":-0.001},{"t":710,"z":0.004},{"t":712.5,"z":-0.004},{"t":715,"z":0.002},{"t":717.5,"z":-0.005},{"t":720,"z":0.003},{"t":722.5,"z":-0.003},{"t":725,"z":0.005},{"t":727.5,"z":-0.002},{"t":730,"z":0.006},{"t":732.5,"z":-0.004},{"t":735,"z":0.003},{"t":737.5,"z":-0.005},{"t":740,"z":0.002},{"t":742.5,"z":-0.003},{"t":745,"z":0.004},{"t":747.5,"z":-0.006},{"t":750,"z":0.001}
],
"sC":[
{"t":200,"x":-0.0007,"y":-0.00053},{"t":205,"x":-0.0015,"y":-0.00015},{"t":210,"x":-0.0017,"y":-0.0003},{"t":215,"x":-0.0019,"y":-0.00083},{"t":220,"x":-0.0022,"y":-0.0014},{"t":225,"x":-0.0019,"y":-0.00083},{"t":230,"x":-0.0019,"y":-0.00037},{"t":235,"x":-0.00175,"y":-0.00068},{"t":240,"x":-0.0019,"y":-0.00045},{"t":245,"x":-0.0017,"y":0.00047},{"t":250,"x":-0.00145,"y":0.00085},{"t":255,"x":-0.00114,"y":0.00138},{"t":260,"x":-0.00083,"y":0.00169},{"t":265,"x":-0.00064,"y":0.00146},{"t":270,"x":-0.00053,"y":0.0007},{"t":275,"x":-0.0006,"y":0.00047},{"t":280,"x":-0.00049,"y":0.00062},{"t":285,"x":-0.00076,"y":0.001},{"t":290,"x":-0.00037,"y":0.00085},{"t":295,"x":-0.00015,"y":0.00123},{"t":300,"x":0.00008,"y":0.00047},{"t":305,"x":0.00047,"y":-0.00037},{"t":310,"x":0.00062,"y":-0.00007},{"t":315,"x":0.00077,"y":0.00008},{"t":320,"x":0.001,"y":-0.00053},{"t":325,"x":0.00039,"y":-0.00106},{"t":330,"x":0.00054,"y":-0.0006},{"t":335,"x":0.00024,"y":-0.00037},{"t":340,"x":0.00047,"y":-0.00068},{"t":345,"x":0.00031,"y":-0.00053},{"t":350,"x":0.00008,"y":-0.00091},{"t":355,"x":-0.00015,"y":-0.00106},{"t":360,"x":-0.00026,"y":0.00008},{"t":365,"x":-0.0003,"y":-0.00053},{"t":370,"x":-0.00037,"y":-0.0003},{"t":375,"x":-0.00053,"y":-0.00068},{"t":380,"x":-0.00045,"y":-0.0003},{"t":385,"x":-0.00064,"y":-0.00015},{"t":390,"x":-0.00037,"y":-0.00053},{"t":395,"x":-0.00007,"y":-0.00015},{"t":400,"x":0.00008,"y":0.00008},{"t":405,"x":0.00031,"y":-0.00007},{"t":410,"x":0.00039,"y":0.00016},{"t":415,"x":0.00047,"y":-0.00015},{"t":420,"x":0.00016,"y":-0.00045},{"t":425,"x":0.0,"y":0.00008},{"t":430,"x":-0.00015,"y":0.00077},{"t":435,"x":-0.00037,"y":0.00104},{"t":440,"x":-0.00053,"y":0.00104},{"t":445,"x":-0.00083,"y":0.00093},{"t":450,"x":-0.00068,"y":0.00054},{"t":455,"x":-0.00049,"y":0.00016},{"t":460,"x":-0.00037,"y":0.00054},{"t":465,"x":-0.00022,"y":0.00138},{"t":470,"x":-0.0003,"y":0.00093},{"t":475,"x":-0.00022,"y":0.00085},{"t":480,"x":-0.00015,"y":0.0007},{"t":485,"x":-0.00037,"y":0.00008},{"t":490,"x":-0.00026,"y":-0.00037},{"t":495,"x":-0.00015,"y":-0.00068},{"t":500,"x":0.0,"y":-0.0003},{"t":505,"x":0.00024,"y":0.00024},{"t":510,"x":0.00047,"y":0.0007},{"t":515,"x":0.00054,"y":0.00116},{"t":520,"x":0.00062,"y":0.00123},{"t":525,"x":0.00077,"y":0.00093},{"t":530,"x":0.00062,"y":0.00054},{"t":535,"x":0.00047,"y":0.00031},{"t":540,"x":0.00031,"y":-0.0003},{"t":545,"x":0.00008,"y":-0.00083},{"t":550,"x":-0.00007,"y":-0.00114},{"t":555,"x":0.00039,"y":-0.00099},{"t":560,"x":0.00054,"y":-0.00068},{"t":565,"x":0.00035,"y":-0.00114},{"t":570,"x":0.00024,"y":-0.00145},{"t":575,"x":0.00008,"y":-0.00164},{"t":580,"x":-0.00007,"y":-0.00122},{"t":585,"x":-0.00018,"y":-0.00053},{"t":590,"x":0.0,"y":-0.00015},{"t":595,"x":-0.00015,"y":0.00008},{"t":600,"x":-0.00026,"y":-0.00007},{"t":605,"x":0.00008,"y":-0.00037},{"t":610,"x":0.00016,"y":0.00008},{"t":615,"x":0.00054,"y":-0.00015},{"t":620,"x":0.0007,"y":0.00047},{"t":625,"x":0.00093,"y":0.001},{"t":630,"x":0.00077,"y":0.00138},{"t":635,"x":0.00085,"y":0.00177},{"t":640,"x":0.00062,"y":0.00192},{"t":645,"x":0.00077,"y":0.00138},{"t":650,"x":0.0007,"y":0.00093},{"t":655,"x":0.00054,"y":0.00047},{"t":660,"x":0.00058,"y":-0.00053},{"t":665,"x":0.00047,"y":-0.00145},{"t":670,"x":0.00031,"y":-0.00206},{"t":675,"x":0.00008,"y":-0.0019},{"t":680,"x":-0.00007,"y":-0.00129},{"t":685,"x":-0.0003,"y":-0.00053},{"t":690,"x":-0.00053,"y":-0.0003},{"t":695,"x":-0.00076,"y":0.00008},{"t":700,"x":-0.00083,"y":-0.00015},{"t":705,"x":-0.00068,"y":-0.00053},{"t":710,"x":-0.00053,"y":-0.0003},{"t":715,"x":-0.0006,"y":-0.00015},{"t":720,"x":-0.00068,"y":-0.00053},{"t":725,"x":-0.00083,"y":-0.00083},{"t":730,"x":-0.00099,"y":-0.0006},{"t":735,"x":-0.00106,"y":-0.00091},{"t":740,"x":-0.00068,"y":0.00008},{"t":745,"x":-0.00091,"y":0.00062},{"t":750,"x":-0.00083,"y":0.001}
],
"zC":[
{"t":200,"z":0.0006},{"t":202.5,"z":-0.0002},{"t":205,"z":0.0008},{"t":207.5,"z":0.0001},{"t":210,"z":0.0007},{"t":212.5,"z":-0.0004},{"t":215,"z":0.0005},{"t":217.5,"z":0.0002},{"t":220,"z":0.0009},{"t":222.5,"z":-0.0001},{"t":225,"z":0.0006},{"t":227.5,"z":0.0000},{"t":230,"z":0.0011},{"t":232.5,"z":0.0003},{"t":235,"z":0.0012},{"t":237.5,"z":-0.0002},{"t":240,"z":0.0008},{"t":242.5,"z":-0.0006},{"t":245,"z":0.0004},{"t":247.5,"z":-0.0003},{"t":250,"z":0.0010},{"t":252.5,"z":0.0002},{"t":255,"z":0.0006},{"t":257.5,"z":-0.0004},{"t":260,"z":0.0009},{"t":262.5,"z":0.0001},{"t":265,"z":0.0013},{"t":267.5,"z":0.0003},{"t":270,"z":0.0010},{"t":272.5,"z":-0.0002},{"t":275,"z":0.0011},{"t":277.5,"z":-0.0005},{"t":280,"z":0.0012},{"t":282.5,"z":0.0001},{"t":285,"z":0.0006},{"t":287.5,"z":-0.0003},{"t":290,"z":0.0008},{"t":292.5,"z":-0.0009},{"t":295,"z":0.0005},{"t":297.5,"z":0.0002},{"t":300,"z":0.0009},{"t":302.5,"z":-0.0001},{"t":305,"z":0.0007},{"t":307.5,"z":0.0002},{"t":310,"z":0.0010},{"t":312.5,"z":-0.0003},{"t":315,"z":0.0008},{"t":317.5,"z":0.0000},{"t":320,"z":0.0006},{"t":322.5,"z":-0.0004},{"t":325,"z":0.0007},{"t":327.5,"z":-0.0002},{"t":330,"z":0.0005},{"t":332.5,"z":-0.0005},{"t":335,"z":0.0006},{"t":337.5,"z":-0.0001},{"t":340,"z":0.0005},{"t":342.5,"z":-0.0004},{"t":345,"z":0.0004},{"t":347.5,"z":-0.0006},{"t":350,"z":0.0002},{"t":352.5,"z":-0.0005},{"t":355,"z":0.0003},{"t":357.5,"z":-0.0003},{"t":360,"z":0.0001},{"t":362.5,"z":-0.0007},{"t":365,"z":0.0002},{"t":367.5,"z":-0.0004},{"t":370,"z":0.0004},{"t":372.5,"z":-0.0003},{"t":375,"z":0.0002},{"t":377.5,"z":-0.0006},{"t":380,"z":0.0003},{"t":382.5,"z":-0.0002},{"t":385,"z":0.0001},{"t":387.5,"z":-0.0008},{"t":390,"z":0.0005},{"t":392.5,"z":-0.0001},{"t":395,"z":0.0006},{"t":397.5,"z":-0.0003},{"t":400,"z":0.0002},{"t":402.5,"z":-0.0005},{"t":405,"z":0.0004},{"t":407.5,"z":-0.0002},{"t":410,"z":0.0003},{"t":412.5,"z":-0.0006},{"t":415,"z":0.0001},{"t":417.5,"z":-0.0004},{"t":420,"z":0.0005},{"t":422.5,"z":-0.0003},{"t":425,"z":0.0002},{"t":427.5,"z":-0.0008},{"t":430,"z":-0.0012},{"t":432.5,"z":-0.0004},{"t":435,"z":0.0004},{"t":437.5,"z":-0.0002},{"t":440,"z":0.0003},{"t":442.5,"z":-0.0005},{"t":445,"z":0.0001},{"t":447.5,"z":-0.0007},{"t":450,"z":0.0002},{"t":452.5,"z":-0.0004},{"t":455,"z":0.0000},{"t":457.5,"z":-0.0006},{"t":460,"z":0.0003},{"t":462.5,"z":-0.0003},{"t":465,"z":0.0004},{"t":467.5,"z":-0.0005},{"t":470,"z":-0.0002},{"t":472.5,"z":-0.0009},{"t":475,"z":-0.0016},{"t":477.5,"z":-0.0005},{"t":480,"z":0.0001},{"t":482.5,"z":-0.0003},{"t":485,"z":0.0003},{"t":487.5,"z":-0.0008},{"t":490,"z":-0.0013},{"t":492.5,"z":-0.0004},{"t":495,"z":0.0002},{"t":497.5,"z":-0.0003},{"t":500,"z":0.0004},{"t":502.5,"z":-0.0002},{"t":505,"z":0.0005},{"t":507.5,"z":-0.0001},{"t":510,"z":0.0003},{"t":512.5,"z":-0.0004},{"t":515,"z":0.0006},{"t":517.5,"z":0.0000},{"t":520,"z":0.0004},{"t":522.5,"z":-0.0003},{"t":525,"z":0.0005},{"t":527.5,"z":-0.0002},{"t":530,"z":0.0003},{"t":532.5,"z":-0.0005},{"t":535,"z":0.0002},{"t":537.5,"z":-0.0003},{"t":540,"z":0.0001},{"t":542.5,"z":-0.0006},{"t":545,"z":0.0003},{"t":547.5,"z":-0.0004},{"t":550,"z":0.0000},{"t":552.5,"z":-0.0006},{"t":555,"z":0.0002},{"t":557.5,"z":-0.0005},{"t":560,"z":-0.0001},{"t":562.5,"z":-0.0007},{"t":565,"z":0.0001},{"t":567.5,"z":-0.0004},{"t":570,"z":0.0002},{"t":572.5,"z":-0.0006},{"t":575,"z":0.0000},{"t":577.5,"z":-0.0003},{"t":580,"z":0.0003},{"t":582.5,"z":-0.0005},{"t":585,"z":0.0001},{"t":587.5,"z":-0.0004},{"t":590,"z":0.0002},{"t":592.5,"z":-0.0006},{"t":595,"z":-0.0002},{"t":597.5,"z":-0.0009},{"t":600,"z":-0.0013},{"t":602.5,"z":-0.0003},{"t":605,"z":0.0004},{"t":607.5,"z":-0.0002},{"t":610,"z":0.0005},{"t":612.5,"z":-0.0001},{"t":615,"z":0.0006},{"t":617.5,"z":0.0000},{"t":620,"z":0.0008},{"t":622.5,"z":0.0001},{"t":625,"z":0.0010},{"t":627.5,"z":0.0002},{"t":630,"z":0.0007},{"t":632.5,"z":-0.0002},{"t":635,"z":0.0005},{"t":637.5,"z":-0.0004},{"t":640,"z":0.0002},{"t":642.5,"z":-0.0010},{"t":645,"z":0.0001},{"t":647.5,"z":-0.0005},{"t":650,"z":0.0003},{"t":652.5,"z":-0.0003},{"t":655,"z":0.0004},{"t":657.5,"z":-0.0006},{"t":660,"z":0.0001},{"t":662.5,"z":-0.0004},{"t":665,"z":0.0005},{"t":667.5,"z":-0.0002},{"t":670,"z":0.0008},{"t":672.5,"z":0.0000},{"t":675,"z":0.0012},{"t":677.5,"z":-0.0001},{"t":680,"z":0.0004},{"t":682.5,"z":-0.0005},{"t":685,"z":0.0002},{"t":687.5,"z":-0.0006},{"t":690,"z":0.0001},{"t":692.5,"z":-0.0007},{"t":695,"z":0.0003},{"t":697.5,"z":-0.0002},{"t":700,"z":0.0005},{"t":702.5,"z":-0.0001},{"t":705,"z":0.0004},{"t":707.5,"z":-0.0003},{"t":710,"z":-0.0007},{"t":712.5,"z":0.0002},{"t":715,"z":0.0006},{"t":717.5,"z":0.0000},{"t":720,"z":0.0009},{"t":722.5,"z":0.0013},{"t":725,"z":0.0003},{"t":727.5,"z":-0.0002},{"t":730,"z":0.0006},{"t":732.5,"z":0.0001},{"t":735,"z":0.0007},{"t":737.5,"z":0.0002},{"t":740,"z":0.0009},{"t":742.5,"z":0.0003},{"t":745,"z":0.0012},{"t":747.5,"z":0.0004},{"t":750,"z":0.0008}
]
},
"vconcat":[
{"hconcat":[
{"width":36,"height":184,"data":{"values":[]},"mark":"point","view":{"stroke":null}},
{"width":152,"height":184,"title":"Transient error","data":{"name":"tA"},
 "mark":{"type":"line","strokeWidth":1,"clip":true},
 "encoding":{
  "x":{"field":"t","type":"quantitative","scale":{"domain":[0,199.5],"nice":false},"axis":{"values":[0,100],"format":"d","title":"Time (s)","titlePadding":3}},
  "y":{"field":"v","type":"quantitative","scale":{"domain":[-12.06,2.91],"nice":false,"zero":false},"axis":{"values":[-10,-7.5,-5,-2.5,0,2.5],"format":".1f","title":"Position error (m)","titlePadding":4}},
  "color":{"field":"s","type":"nominal","scale":{"domain":["x","y","z"],"range":["#1f77b4","#ff7f0e","#2ca02c"]},
   "legend":{"orient":"bottom-right","labelExpr":"datum.label == 'x' ? 'p₃ˣ(t) − p̂₃ˣ(t)' : datum.label == 'y' ? 'p₃ʸ(t) − p̂₃ʸ(t)' : 'p₃ᶻ(t) − p̂₃ᶻ(t)'"}}
 }},
{"width":322,"height":184,"title":"Steady-state error",
 "resolve":{"axis":{"x":"independent"}},
 "layer":[
  {"data":{"name":"sA"},"mark":{"type":"line","strokeWidth":1,"color":"#1f77b4","clip":true},
   "encoding":{
    "x":{"field":"t","type":"quantitative","scale":{"domain":[200,750],"nice":false},"axis":{"orient":"bottom","values":[200,300,400,500,600,700],"format":"d","title":"(a)","titleFont":"Liberation Sans","titleFontSize":20.5,"titleFontWeight":"bold","titleColor":"#000","titleAlign":"left","titleAngle":0,"titleBaseline":"alphabetic","titleX":-105,"titleY":71}},
    "y":{"field":"x","type":"quantitative","scale":{"domain":[-0.0559,0.0698],"nice":false,"zero":false},"axis":{"orient":"right","values":[-0.04,-0.02,0,0.02,0.04,0.06],"format":".2f","title":null}}}},
  {"data":{"name":"sA"},"mark":{"type":"line","strokeWidth":1,"color":"#ff7f0e","clip":true},
   "encoding":{
    "x":{"field":"t","type":"quantitative","scale":{"domain":[200,750],"nice":false},"axis":{"orient":"bottom","labels":false,"ticks":false,"grid":false,"domain":false,"title":"CEKF","titleFont":"Liberation Sans","titleFontSize":20.5,"titleFontWeight":"normal","titleColor":"#7f7f7f","titleAlign":"left","titleAngle":0,"titleBaseline":"alphabetic","titleX":-74,"titleY":71}},
    "y":{"field":"y","type":"quantitative","scale":{"domain":[-0.0559,0.0698],"nice":false,"zero":false},"axis":{"orient":"right","values":[-0.04,-0.02,0,0.02,0.04,0.06],"format":".2f","title":null}}}},
  {"data":{"name":"zA"},"mark":{"type":"line","strokeWidth":1,"color":"#2ca02c","clip":true},
   "encoding":{
    "x":{"field":"t","type":"quantitative","scale":{"domain":[200,750],"nice":false},"axis":{"orient":"bottom","labels":false,"ticks":false,"grid":false,"domain":false,"title":"position estimation results.","titleFont":"Liberation Sans","titleFontSize":20.5,"titleFontWeight":"normal","titleColor":"#000","titleAlign":"left","titleAngle":0,"titleBaseline":"alphabetic","titleX":-13,"titleY":71}},
    "y":{"field":"z","type":"quantitative","scale":{"domain":[-0.0559,0.0698],"nice":false,"zero":false},"axis":{"orient":"right","values":[-0.04,-0.02,0,0.02,0.04,0.06],"format":".2f","title":null}}}}
 ]},
{"width":61,"height":184,"data":{"values":[]},"mark":"point","view":{"stroke":null}},
{"width":156,"height":184,"title":"Transient error","data":{"name":"tB"},
 "mark":{"type":"line","strokeWidth":1,"clip":true},
 "encoding":{
  "x":{"field":"t","type":"quantitative","scale":{"domain":[0,200],"nice":false},"axis":{"values":[0,50,100,150],"format":"d","title":"Time (s)","titlePadding":3}},
  "y":{"field":"v","type":"quantitative","scale":{"domain":[-12.71,3.95],"nice":false,"zero":false},"axis":{"values":[-12.5,-10,-7.5,-5,-2.5,0,2.5],"format":".1f","title":"Position error (m)","titlePadding":4}},
  "color":{"field":"s","type":"nominal","scale":{"domain":["x","y","z"],"range":["#1f77b4","#ff7f0e","#2ca02c"]},
   "legend":{"orient":"bottom-right","labelExpr":"datum.label == 'x' ? 'p₃ˣ(t) − p̂₃ˣ(t)' : datum.label == 'y' ? 'p₃ʸ(t) − p̂₃ʸ(t)' : 'p₃ᶻ(t) − p̂₃ᶻ(t)'"}}
 }},
{"width":333,"height":184,"title":"Steady-state error",
 "resolve":{"axis":{"x":"independent"}},
 "layer":[
  {"data":{"name":"sB"},"mark":{"type":"line","strokeWidth":1,"color":"#1f77b4","clip":true},
   "encoding":{
    "x":{"field":"t","type":"quantitative","scale":{"domain":[200,750],"nice":false},"axis":{"orient":"bottom","values":[200,300,400,500,600,700],"format":"d","title":"(b)","titleFont":"Liberation Sans","titleFontSize":20.5,"titleFontWeight":"bold","titleColor":"#000","titleAlign":"left","titleAngle":0,"titleBaseline":"alphabetic","titleX":-111,"titleY":71}},
    "y":{"field":"x","type":"quantitative","scale":{"domain":[-0.094,0.344],"nice":false,"zero":false},"axis":{"orient":"right","values":[0,0.1,0.2,0.3],"format":".1f","title":null}}}},
  {"data":{"name":"sB"},"mark":{"type":"line","strokeWidth":1,"color":"#ff7f0e","clip":true},
   "encoding":{
    "x":{"field":"t","type":"quantitative","scale":{"domain":[200,750],"nice":false},"axis":{"orient":"bottom","labels":false,"ticks":false,"grid":false,"domain":false,"title":"DEKF","titleFont":"Liberation Sans","titleFontSize":20.5,"titleFontWeight":"normal","titleColor":"#7f7f7f","titleAlign":"left","titleAngle":0,"titleBaseline":"alphabetic","titleX":-77,"titleY":71}},
    "y":{"field":"y","type":"quantitative","scale":{"domain":[-0.094,0.344],"nice":false,"zero":false},"axis":{"orient":"right","values":[0,0.1,0.2,0.3],"format":".1f","title":null}}}},
  {"data":{"name":"zB"},"mark":{"type":"line","strokeWidth":1,"color":"#2ca02c","clip":true},
   "encoding":{
    "x":{"field":"t","type":"quantitative","scale":{"domain":[200,750],"nice":false},"axis":{"orient":"bottom","labels":false,"ticks":false,"grid":false,"domain":false,"title":"position estimation results.","titleFont":"Liberation Sans","titleFontSize":20.5,"titleFontWeight":"normal","titleColor":"#000","titleAlign":"left","titleAngle":0,"titleBaseline":"alphabetic","titleX":-16,"titleY":71}},
    "y":{"field":"z","type":"quantitative","scale":{"domain":[-0.094,0.344],"nice":false,"zero":false},"axis":{"orient":"right","values":[0,0.1,0.2,0.3],"format":".1f","title":null}}}}
 ]}
],"spacing":22,"bounds":"flush","resolve":{"legend":{"color":"independent"}}},
{"hconcat":[
{"width":11,"height":184,"data":{"values":[]},"mark":"point","view":{"stroke":null}},
{"width":158,"height":184,"title":"Transient error","data":{"name":"tC"},
 "mark":{"type":"line","strokeWidth":1,"clip":true},
 "encoding":{
  "x":{"field":"t","type":"quantitative","scale":{"domain":[0,199],"nice":false},"axis":{"values":[0,50,100,150],"format":"d","title":"Time (s)","titlePadding":3}},
  "y":{"field":"v","type":"quantitative","scale":{"domain":[-0.21,3.74],"nice":false,"zero":false},"axis":{"values":[0,1,2,3],"format":"d","title":"Fluid velocity error (m/s)","titlePadding":4}},
  "color":{"field":"s","type":"nominal","scale":{"domain":["x","y","z"],"range":["#1f77b4","#ff7f0e","#2ca02c"]},
   "legend":{"orient":"top-right","labelExpr":"datum.label == 'x' ? 'v_f₃ˣ(t) − v̂_f₃ˣ(t)' : datum.label == 'y' ? 'v_f₃ʸ(t) − v̂_f₃ʸ(t)' : 'v_f₃ᶻ(t) − v̂_f₃ᶻ(t)'"}}
 }},
{"width":336,"height":184,"title":"Steady-state error",
 "resolve":{"axis":{"x":"independent"}},
 "layer":[
  {"data":{"name":"sC"},"mark":{"type":"line","strokeWidth":1,"color":"#1f77b4","clip":true},
   "encoding":{
    "x":{"field":"t","type":"quantitative","scale":{"domain":[200,750],"nice":false},"axis":{"orient":"bottom","values":[200,300,400,500,600,700],"format":"d","title":"(c)","titleFont":"Liberation Sans","titleFontSize":20.5,"titleFontWeight":"bold","titleColor":"#000","titleAlign":"left","titleAngle":0,"titleBaseline":"alphabetic","titleX":-106,"titleY":70}},
    "y":{"field":"x","type":"quantitative","scale":{"domain":[-0.00228,0.00195],"nice":false,"zero":false},"axis":{"orient":"right","values":[-0.002,-0.001,0,0.001],"format":".3f","title":null}}}},
  {"data":{"name":"sC"},"mark":{"type":"line","strokeWidth":1,"color":"#ff7f0e","clip":true},
   "encoding":{
    "x":{"field":"t","type":"quantitative","scale":{"domain":[200,750],"nice":false},"axis":{"orient":"bottom","labels":false,"ticks":false,"grid":false,"domain":false,"title":"CEKF","titleFont":"Liberation Sans","titleFontSize":20.5,"titleFontWeight":"normal","titleColor":"#7f7f7f","titleAlign":"left","titleAngle":0,"titleBaseline":"alphabetic","titleX":-75,"titleY":70}},
    "y":{"field":"y","type":"quantitative","scale":{"domain":[-0.00228,0.00195],"nice":false,"zero":false},"axis":{"orient":"right","values":[-0.002,-0.001,0,0.001],"format":".3f","title":null}}}},
  {"data":{"name":"zC"},"mark":{"type":"line","strokeWidth":1,"color":"#2ca02c","clip":true},
   "encoding":{
    "x":{"field":"t","type":"quantitative","scale":{"domain":[200,750],"nice":false},"axis":{"orient":"bottom","labels":false,"ticks":false,"grid":false,"domain":false,"title":"fluid velocity estimation results.","titleFont":"Liberation Sans","titleFontSize":20.5,"titleFontWeight":"normal","titleColor":"#000","titleAlign":"left","titleAngle":0,"titleBaseline":"alphabetic","titleX":-14,"titleY":70}},
    "y":{"field":"z","type":"quantitative","scale":{"domain":[-0.00228,0.00195],"nice":false,"zero":false},"axis":{"orient":"right","values":[-0.002,-0.001,0,0.001],"format":".3f","title":null}}}}
 ]},
{"width":40,"height":184,"data":{"values":[]},"mark":"point","view":{"stroke":null}},
{"width":158,"height":184,"title":"Transient error","data":{"name":"tC"},
 "mark":{"type":"line","strokeWidth":1,"clip":true},
 "encoding":{
  "x":{"field":"t","type":"quantitative","scale":{"domain":[0,199],"nice":false},"axis":{"values":[0,50,100,150],"format":"d","title":"Time (s)","titlePadding":3}},
  "y":{"field":"v","type":"quantitative","scale":{"domain":[-0.21,3.74],"nice":false,"zero":false},"axis":{"values":[0,1,2,3],"format":"d","title":"Fluid velocity error (m/s)","titlePadding":4}},
  "color":{"field":"s","type":"nominal","scale":{"domain":["x","y","z"],"range":["#1f77b4","#ff7f0e","#2ca02c"]},
   "legend":{"orient":"top-right","labelExpr":"datum.label == 'x' ? 'v_f₃ˣ(t) − v̂_f₃ˣ(t)' : datum.label == 'y' ? 'v_f₃ʸ(t) − v̂_f₃ʸ(t)' : 'v_f₃ᶻ(t) − v̂_f₃ᶻ(t)'"}}
 }},
{"width":336,"height":184,"title":"Steady-state error",
 "resolve":{"axis":{"x":"independent"}},
 "layer":[
  {"data":{"name":"sC"},"mark":{"type":"line","strokeWidth":1,"color":"#1f77b4","clip":true},
   "encoding":{
    "x":{"field":"t","type":"quantitative","scale":{"domain":[200,750],"nice":false},"axis":{"orient":"bottom","values":[200,300,400,500,600,700],"format":"d","title":"(d)","titleFont":"Liberation Sans","titleFontSize":20.5,"titleFontWeight":"bold","titleColor":"#000","titleAlign":"left","titleAngle":0,"titleBaseline":"alphabetic","titleX":-107,"titleY":70}},
    "y":{"field":"x","type":"quantitative","scale":{"domain":[-0.00228,0.00195],"nice":false,"zero":false},"axis":{"orient":"right","values":[-0.002,-0.001,0,0.001],"format":".3f","title":null}}}},
  {"data":{"name":"sC"},"mark":{"type":"line","strokeWidth":1,"color":"#ff7f0e","clip":true},
   "encoding":{
    "x":{"field":"t","type":"quantitative","scale":{"domain":[200,750],"nice":false},"axis":{"orient":"bottom","labels":false,"ticks":false,"grid":false,"domain":false,"title":"CEKF","titleFont":"Liberation Sans","titleFontSize":20.5,"titleFontWeight":"normal","titleColor":"#7f7f7f","titleAlign":"left","titleAngle":0,"titleBaseline":"alphabetic","titleX":-73,"titleY":70}},
    "y":{"field":"y","type":"quantitative","scale":{"domain":[-0.00228,0.00195],"nice":false,"zero":false},"axis":{"orient":"right","values":[-0.002,-0.001,0,0.001],"format":".3f","title":null}}}},
  {"data":{"name":"zC"},"mark":{"type":"line","strokeWidth":1,"color":"#2ca02c","clip":true},
   "encoding":{
    "x":{"field":"t","type":"quantitative","scale":{"domain":[200,750],"nice":false},"axis":{"orient":"bottom","labels":false,"ticks":false,"grid":false,"domain":false,"title":"fluid velocity estimation results.","titleFont":"Liberation Sans","titleFontSize":20.5,"titleFontWeight":"normal","titleColor":"#000","titleAlign":"left","titleAngle":0,"titleBaseline":"alphabetic","titleX":-12,"titleY":70}},
    "y":{"field":"z","type":"quantitative","scale":{"domain":[-0.00228,0.00195],"nice":false,"zero":false},"axis":{"orient":"right","values":[-0.002,-0.001,0,0.001],"format":".3f","title":null}}}}
 ]}
],"spacing":22,"bounds":"flush","resolve":{"legend":{"color":"independent"}}}
]
}
